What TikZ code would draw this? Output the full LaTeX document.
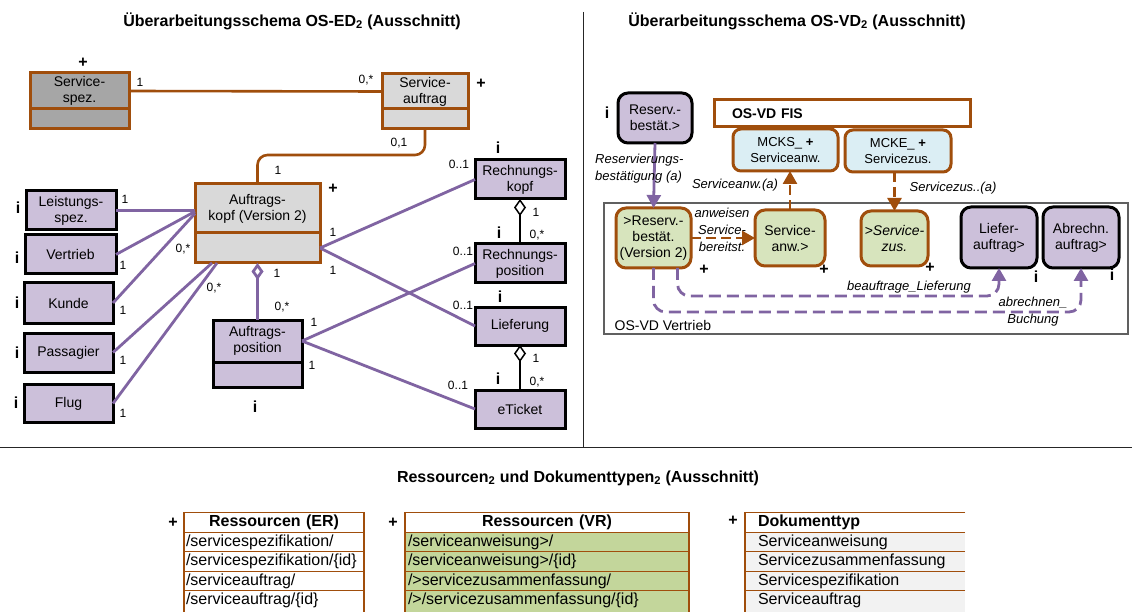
\documentclass[tikz,border=0pt]{standalone}
\usepackage{fontspec}
\setmainfont{Liberation Sans}
\usetikzlibrary{arrows.meta,positioning}
\definecolor{cbrown}{HTML}{A04E0C}
\definecolor{cpurp}{HTML}{CCC0DA}
\definecolor{cpurpD}{HTML}{8064A2}
\definecolor{cgray}{HTML}{A6A6A6}
\definecolor{cgrayL}{HTML}{D9D9D9}
\definecolor{cgreen}{HTML}{D7E4BD}
\definecolor{cgreenT}{HTML}{C3D69B}
\definecolor{cblue}{HTML}{DBEEF4}
\definecolor{cdoc}{HTML}{F2F2F2}
\definecolor{cframe}{HTML}{606060}
\newcommand{\fsz}[2]{\fontsize{#1}{#2}\selectfont}
\tikzset{
  cls/.style={draw, line width=3pt, inner sep=0pt, outer sep=0pt, align=center,
              font=\fsz{14}{16}},
  clsE/.style={cls, draw=cbrown, fill=cgrayL},
  clsI/.style={cls, draw=black, fill=cpurp},
  rnd/.style={cls, rounded corners=10pt},
  rndI/.style={rnd, draw=black, fill=cpurp},
  rndE/.style={rnd, draw=cbrown, fill=cgreen},
  mck/.style={rnd, rounded corners=8pt, draw=cbrown, fill=cblue, font=\fsz{13}{16},
              minimum width=105pt, minimum height=42pt},
  fisbox/.style={draw=cbrown, line width=3pt, fill=white, minimum height=27pt,
              text width=220pt, inner xsep=18pt, inner ysep=0pt, align=left,
              font=\bfseries\fsz{14}{16}},
  vdbox/.style={draw=cframe, line width=1.2pt, inner sep=0pt,
              minimum width=524pt, minimum height=131pt},
  mk/.style={inner sep=0pt, font=\bfseries\fsz{16}{16}},
  mlt/.style={inner sep=0pt, font=\fsz{12}{14}},
  elbl/.style={inner sep=0pt, align=center, font=\itshape\fsz{13}{17}},
  ttl/.style={inner sep=0pt, font=\bfseries\fsz{16}{18}},
  pline/.style={draw=cpurpD, line width=2.8pt},
  bline/.style={draw=cbrown, line width=2.6pt},
  agg/.style={draw=black, line width=1.5pt, {Diamond[open,length=17pt,width=12pt]}-},
  pagg/.style={pline, {Diamond[open,length=17pt,width=12pt]}-},
  parrow/.style={pline, -{Triangle[length=13pt,width=14pt]}},
  pdash/.style={pline, dash pattern=on 12pt off 6pt, -{Triangle[length=13pt,width=14pt]}},
  bdash/.style={bline, dash pattern=on 10pt off 5pt, -{Triangle[length=13pt,width=14pt]}},
  divline/.style={draw=black!85, line width=1pt},
  tcell/.style={draw=cbrown, line width=1.2pt, inner ysep=0pt, outer sep=0pt,
                minimum height=19.5pt, align=left, font=\fsz{16}{18}},
  ercell/.style={tcell, fill=white, text width=176pt, inner xsep=2pt},
  vrcell/.style={tcell, fill=cgreenT, text width=278pt, inner xsep=3pt},
  dkcell/.style={tcell, draw=none, fill=cdoc, text width=194pt, inner xsep=13pt},
  hcell/.style={align=center, fill=white, font=\bfseries\fsz{16}{18}},
  lastrow/.style={anchor=north, text height=11.7pt, text depth=30pt, inner ysep=2.1pt},
}

\begin{document}
\begin{tikzpicture}[x=1pt, y=-1pt]
  \fill[white] (0,0) rectangle (1132,612);
  \useasboundingbox (0,0) rectangle (1132,612);
  % titles and dividers
  \node[ttl] (tED) at (292,21) {Überarbeitungsschema OS-ED\textsubscript{2} (Ausschnitt)};
  \node[ttl] (tVD) at (797,21) {Überarbeitungsschema OS-VD\textsubscript{2} (Ausschnitt)};
  \node[ttl] (tRS) at (578,478) {Ressourcen\textsubscript{2} und Dokumenttypen\textsubscript{2} (Ausschnitt)};
  \draw[divline] (583,12) -- (583,447);
  \draw[divline] (0,447) -- (1132,447);

  % OS-ED classes
  \node[clsE, fill=cgray, minimum width=99pt, minimum height=36pt] (sspez) at (79.5,91) {Service-\\spez.};
  \node[clsE, fill=cgray, minimum width=99pt, minimum height=20pt, below=0pt of sspez] (sspezb) {};
  \node[clsE, minimum width=86pt, minimum height=35pt] (sauft) at (425,91.5) {Service-\\auftrag};
  \node[clsE, minimum width=86pt, minimum height=20pt, below=0pt of sauft] (sauftb) {};
  \node[clsE, minimum width=125pt, minimum height=49pt] (kopf) at (257.5,208.5) {Auftrags-\\kopf (Version 2)};
  \node[clsE, minimum width=125pt, minimum height=30pt, below=0pt of kopf] (kopfb) {};
  \node[clsI, minimum width=89pt, minimum height=42pt] (apos) at (257.5,341) {Auftrags-\\position};
  \node[clsI, minimum width=89pt, minimum height=25pt, below=0pt of apos] (aposb) {};

  \node[clsI, minimum width=90pt, minimum height=39pt] (leist) at (71,210.5) {Leistungs-\\spez.};
  \node[clsI, minimum width=91pt, minimum height=39pt] (vertr) at (70.5,254.5) {Vertrieb};
  \node[clsI, minimum width=89pt, minimum height=40pt] (kunde) at (68.5,303) {Kunde};
  \node[clsI, minimum width=89pt, minimum height=39pt] (pass) at (68.5,352.5) {Passagier};
  \node[clsI, minimum width=89pt, minimum height=38pt] (flug) at (68.5,403.5) {Flug};

  \node[clsI, minimum width=90pt, minimum height=39pt] (rkopf) at (520,179.5) {Rechnungs-\\kopf};
  \node[clsI, minimum width=90pt, minimum height=39pt] (rpos) at (520,263.5) {Rechnungs-\\position};
  \node[clsI, minimum width=90pt, minimum height=38pt] (lief) at (520,326) {Lieferung};
  \node[clsI, minimum width=90pt, minimum height=38pt] (eticket) at (520,409) {eTicket};

  \draw[bline] (sspez.east) -- (sauft.west);
  \draw[bline, rounded corners=10pt] (sauftb.south) -- ++(0,26) -| (kopf.north);
  \draw[pline] (leist.east) -- ([yshift=-2pt]kopf.west);
  \draw[pline] (vertr.east) -- ([yshift=-3pt]kopf.west);
  \draw[pline] (kunde.east) -- ([yshift=-5pt]kopf.west);
  \draw[pline] (pass.east) -- ([xshift=17pt]kopfb.south west);
  \draw[pline] (flug.east) -- ([xshift=22pt]kopfb.south west);
  \draw[pline] (kopfb.east) -- (rkopf.west);
  \draw[pline] (kopfb.east) -- (lief.west);
  \draw[pline] (apos.east) -- (rpos.west);
  \draw[pline] (apos.east) -- (eticket.west);
  \draw[pagg] (kopfb.south) -- (apos.north);
  \draw[agg] (rkopf.south) -- (rpos.north);
  \draw[agg] (lief.south) -- (eticket.north);

  \foreach \px/\py/\t [count=\k] in {140/82/1, 366/80/{0,*}, 399/143/{0,1}, 278/170/1,
      125/199/1, 123/265/1, 123/310/1, 123/360/1, 123/413/1, 183/249/{0,*}, 214/288/{0,*},
      277/273/1, 282/307/{0,*}, 333/232/1, 333/270/1, 459/164/{0..1}, 536/212/1,
      537/235/{0,*}, 463/251/{0..1}, 463/305/{0..1}, 536/358/1, 537/382/{0,*},
      458/385/{0..1}, 314/322/1, 312/365/1}
    \node[mlt] (ml\k) at (\px,\py) {\t};

  % OS-VD
  \node[vdbox] (vdframe) at (866,268.5) {};
  \node[font=\fsz{14}{16}, inner sep=0pt, anchor=south west] (lvd) at ([shift={(11pt,4pt)}]vdframe.south west) {OS-VD Vertrieb};
  \node[rndI, minimum width=74pt, minimum height=50pt] (rsv) at (655,118) {Reserv.-\\bestät.>};
  \node[fisbox] (fis) at (842,113.5) {OS-VD FIS};
  \node[mck] (mcks) at (785.5,150) {MCKS\_ \textbf{+}\\Serviceanw.};
  \node[mck, minimum width=106pt] (mcke) at (898,151) {MCKE\_ \textbf{+}\\Servicezus.};
  \node[rndE, minimum width=75pt, minimum height=60pt] (rv2) at (653.5,238) {>Reserv.-\\bestät.\\(Version 2)};
  \node[rndE, minimum width=70pt, minimum height=56pt] (sanw) at (790,238) {Service-\\anw.>};
  \node[rndE, minimum width=67pt, minimum height=55pt] (szus) at (894.5,238.5) {>\textit{Service-}\\\textit{zus.}};
  \node[rndI, minimum width=76pt, minimum height=61pt] (liefa) at (999,237.5) {Liefer-\\auftrag>};
  \node[rndI, minimum width=76pt, minimum height=61pt] (abr) at (1081,237.5) {Abrechn.\\auftrag>};

  \draw[parrow] (rsv.south) -- (rv2.north);
  \draw[bdash] (rv2.east) -- (sanw.west);
  \draw[bdash] (sanw.north) -- (sanw.north |- mcks.south);
  \draw[bdash] (szus.north |- mcke.south) -- (szus.north);
  \draw[pdash, rounded corners=12pt] ([xshift=24pt]rv2.south) |- ([yshift=-28pt]liefa.south) -- (liefa.south);
  \draw[pdash, rounded corners=12pt] (rv2.south) |- ([yshift=-44pt]abr.south) -- (abr.south);

  \node[elbl, align=left, anchor=west] (lres) at (595,168.5) {Reservierungs-\\bestätigung (a)};
  \node[elbl] (lanw) at (735,185) {Serviceanw.(a)};
  \node[elbl] (lzus) at (953,188) {Servicezus..(a)};
  \node[elbl] (lber) at (722,229.5) {anweisen\\Service-\\bereitst.};
  \node[elbl] (lbeauf) at (909,287) {beauftrage\_Lieferung};
  \node[elbl] (labr) at (1033,311.5) {abrechnen\_\\Buchung};

  \foreach \px/\py/\t [count=\k] in {83/63/+, 481/84/+, 333/189/+, 18/208/i, 17/258/i,
      17/303/i, 17/353/i, 16/403/i, 255/407/i, 498/148/i, 499/233/i, 500/297/i, 498/379/i,
      607/113/i, 704/270/+, 824/270/+, 930/268/+, 1036/277/i, 1112/275/i,
      173/523/+, 393/523/+, 733/521/+}
    \node[mk] (mk\k) at (\px,\py) {\t};

  % Ressourcen und Dokumenttypen
  \node[ercell, hcell] (er0) at (274,522.5) {Ressourcen (ER)};
  \foreach \t [count=\k] in {/servicespezifikation/, /servicespezifikation/\{id\}, /serviceauftrag/}
    \node[ercell] (er\k) at (274,522.5+19.5*\k) {\t};
  \node[ercell, lastrow] (er4) at (274,590.75) {/serviceauftrag/\{id\}};

  \node[vrcell, hcell] (vr0) at (547,522.5) {Ressourcen (VR)};
  \foreach \t [count=\k] in {/serviceanweisung>/, /serviceanweisung>/\{id\}, />servicezusammenfassung/}
    \node[vrcell] (vr\k) at (547,522.5+19.5*\k) {\t};
  \node[vrcell, lastrow] (vr4) at (547,590.75) {/>/servicezusammenfassung/\{id\}};

  \node[dkcell, hcell, align=left] (dk0) at (855,522.5) {Dokumenttyp};
  \foreach \t [count=\k] in {Serviceanweisung, Servicezusammenfassung, Servicespezifikation}
    \node[dkcell] (dk\k) at (855,522.5+19.5*\k) {\t};
  \node[dkcell, lastrow] (dk4) at (855,590.75) {Serviceauftrag};
  \foreach \k in {0,...,4}
    \draw[draw=cbrown, line width=1.2pt] (dk\k.north east) -- (dk\k.north west) -- (dk\k.south west);
\end{tikzpicture}
\end{document}
